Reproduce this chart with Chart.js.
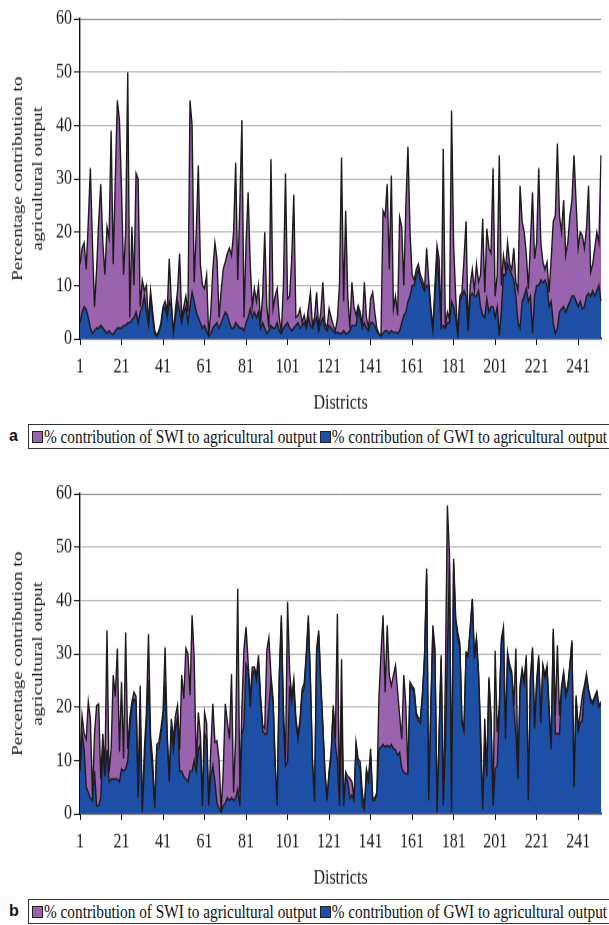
<!DOCTYPE html>
<html>
<head>
<meta charset="utf-8">
<script src="https://cdn.jsdelivr.net/npm/chart.js@4.4.1/dist/chart.umd.min.js"></script>
<style>
  body { margin: 0; background: #fff; width: 609px; height: 925px; overflow: hidden; position: relative; }
  /* the printed figure is stretched vertically, so each chart is drawn flatter and scaled back up */
  .wrap { position: absolute; left: 0; width: 609px; height: 332px; transform: scaleY(1.25); transform-origin: 0 0; }
  .tag { position: absolute; left: 9px; font: bold 16px 'Liberation Sans', Arial, sans-serif; color: #111; }
  .box { position: absolute; left: 28px; width: 640px; height: 23px; border: 1.5px solid #333;
         font: 15.3px 'Liberation Serif', serif; color: #111; line-height: 23px; padding-left: 3px; white-space: nowrap; }
  .box span.t { display: inline-block; transform: scaleY(1.2); }
  .sw { display: inline-block; width: 9px; height: 10px; border: 1px solid #222; margin-right: 1px; vertical-align: -1px; }
  .sw.second { margin-left: 3px; }
</style>
</head>
<body>
<div class="wrap" style="top:0px"><canvas id="chartA" width="609" height="332"></canvas></div>
<div class="tag" style="top:427px">a</div>
<div class="box" style="top:424px"><span class="sw" style="background:#9a63ad"></span><span class="t">% contribution of SWI to agricultural output</span><span class="sw second" style="background:#1c4fa5"></span><span class="t">% contribution of GWI to agricultural output</span></div>

<div class="wrap" style="top:475px"><canvas id="chartB" width="609" height="332"></canvas></div>
<div class="tag" style="top:902px">b</div>
<div class="box" style="top:899px"><span class="sw" style="background:#9a63ad"></span><span class="t">% contribution of SWI to agricultural output</span><span class="sw second" style="background:#1c4fa5"></span><span class="t">% contribution of GWI to agricultural output</span></div>

<script>
// districts 1..252 visible in the figure
const districts = Array.from({ length: 252 }, (_, i) => String(i + 1))
const xTickLabels = ['1', '21', '41', '61', '81', '101', '121', '141', '161', '181', '201', '221', '241']
const yTicks = [0, 10, 20, 30, 40, 50, 60]

const seriesNames = ['% contribution of GWI to agricultural output', '% contribution of SWI to agricultural output']

// panel a
const gwiA = [
  3,5,6,5.5,4,2,1,1.5,2,2, 2.5,2,1.5,1,1.5,1,0.8,1.5,2,2,
  2,2.5,2.5,3,3,3.5,4,5,3,5, 6,8,5,2.5,8,4,1,0.5,1.2,2.5,
  5.5,6,4,7,6,1,4,7,5,3, 5,6,3,6,8.7,7,5,4,3,2,
  2.5,1.5,0.5,1,2,2.5,3,2,3,4, 5,4.5,3,2,2,3,2.5,2,2,1.5,
  3,4,5.6,4,5,4,5,2,3,2, 1,1.5,2.5,2,2,3,1.5,1,2,2.5,
  3,2,1.5,2,2.5,3,2,2.5,3,2, 4,2.5,2,3,4,1.5,3,4,2,1.5,
  2.5,2,1.5,1,1.2,1,1,1.5,1,1, 1.5,2.5,2.5,2.5,5.6,4,2,3,2,1.5,
  3,3,2.5,1.5,0.8,0.5,1,1.5,1.5,1, 1.5,1.2,1.2,1,1.5,3,4.4,5,7,8,
  10,10,12,13,11,10,9,10,10,5, 1.5,8,16,10,2,2.5,2,3,3,7,
  6,4,0.5,7,8,9,8,1.5,8,8.5, 8,8,9,6,4.4,4,7.5,5,6,6,
  4,6,0.6,5,12,12,14,13,12,11, 8,3,2,7,8,9.4,7,8,1,8,
  10,10,11,10.5,11,10,6,7,3,1, 2,5,5.6,6,5,6,7,8,8,7,
  6,7,5.6,6,8,8.5,8,9,8,9, 10,7
]
const swiA = [
  11,12,12,7.5,18,30,17,4.5,11,20, 26.5,16,10.5,20,17.5,38,13.2,28.5,42.7,39,
  26,9.5,17.5,47,1,17.5,6,26,27,1, 5,1,5,0.5,1,1,0.5,0.1,0.3,0.5,
  0.5,1,1,8,1,0,1.6,2,11,1, 1,2,2,38.7,31.3,3.6,15,28.5,11,8,
  6.9,10.5,0.1,4,11,15.5,12,2,6,9, 9.4,11.5,14,13.6,18,30,8.5,23,39,2.5,
  15,23.5,8.4,2,4.4,3,5,1,5,18, 5,0.5,31.2,3.6,6,6.4,2.5,0.2,8,28.5,
  4.5,6,13.5,25,1.5,1.4,3.6,0.5,1.4,0.5, 1.6,6.2,0.5,1,4.7,0.5,2,6.6,1,0.5,
  3.1,2,1,0.5,2.5,9,33,5.5,23,7, 0.5,8.1,3.5,1.9,0.6,1,0.5,7.6,2,0.5,
  4.5,5.7,2.5,0.5,0.2,0.1,23,21.5,27.5,12, 29.1,4.4,6.8,3.4,21.3,18,5.6,20,29,12,
  2,1,1,1,1,1,0.4,7,1,1, 0.5,2,1.5,5,0.5,33.1,0.5,2,0.7,35.8,
  11.5,4,0.1,1,0.7,6,14,0.5,2,4.5, 1,6,1.6,6,18.1,4.7,13.1,12,10,26,
  4,6,33.8,5,3.6,1,4,1,1,6, 2.6,6,26.7,15,12,6.6,2.4,10,26.5,7,
  8,22,7,3.9,2,4.4,2.7,8,19,22, 34.6,18,14.4,20,10.6,12,16,18,26.4,18.6,
  11,13,13.8,11,12.6,20.2,4.5,5,9,11, 8,27.4
]

// panel b
const gwiB = [
  8,15,12,5,4,3,2.5,8,1.5,1.5, 3,12,7,12,6,6.5,6.5,6.5,6.5,6,
  8.4,8,8.4,10,16,20,21.5,21,3,18, 0.3,9,17,25,12,8,1,12,12.5,15,
  18,24.7,14,6,16,12,16,18,8,8, 7,6.5,6,8,8,10,8,12,13,1.5,
  15,14,1.5,7,9,6,2,1,0.3,1.5, 2,3,2.5,3,2.5,3,4.6,1.5,15,16.5,
  28,27,20,26,27,25,28,21,15.5,15, 15,20,25,21,9,1.5,25,36,17,9,
  9.7,24,21,24,17,14,17,22.5,23.5,29, 36,24.5,9.5,2.3,30,33.5,24,16,7.5,2.5,
  7.5,11,19.5,13,10,1.5,20,1.5,7,6, 3,3.5,2.5,12.5,9.5,8.5,1.5,0.8,7.5,6,
  11,2.5,2.5,3.5,12,12.5,13,12.5,12.8,12.5, 13,12.2,12,11,11.5,8.5,7.8,7.5,7.5,24,
  23.5,23,18.5,17.5,17,22,29,45,2.5,19, 34,30,0.3,14,29,1.5,12,30,47,0.3,
  47,36,33,31,17,15.5,30,29.5,34.5,40, 29,32.5,26,13,0.8,14,7,25,17.5,1.5,
  8.4,9,19,32,34,14,29.5,27,26,19.5, 15,6.5,23,26.5,24.5,29,2.5,25,30.5,16,
  24,29,17,27.5,25.5,27,19,12,34,15, 15,15,23,26,22,23.5,27.5,32,5,21.5,
  15.5,17,17.5,23.5,25.5,23,21,20.5,21.5,22.5, 20,20.5
]
const swiB = [
  2.3,3.4,3,9,17,14.8,0.9,7,18.8,19.1, 3.5,3,1.4,22.4,1.8,5.5,19.5,15.5,24.5,5.6,
  16.3,2.3,25.6,2.2,2,1,1.3,1,1,6, 0,3,2,8.7,2.7,2,0.2,1,0.9,1,
  1,6.5,1,0.5,1.8,2,2.4,2.3,4,18, 14.6,24.5,24,14.2,29.2,19.4,1,7,2,0.1,
  4,3,0.1,5,11.6,7.4,11.7,9,0.2,6.5, 18.6,14.2,11.5,23.2,1.5,12,37.6,2.5,5,14.5,
  7,1.4,1.6,1.5,0.5,1,1.7,1,1.1,1, 15.6,13,1,0.6,1,0.1,1.2,1.2,3,0.7,
  30,2.6,1,1.3,1,0.7,0.8,0.9,0.9,1, 1.2,0.8,0.5,0.2,1,0.9,1,0.6,0.5,0.3,
  0.5,0.6,0.8,1,27.5,0.1,9,0.1,0.8,1, 3.6,2.5,0.3,0.9,0.8,1.2,2.5,0.2,0.9,0.6,
  1.2,0.3,0.5,0.5,9.6,17.5,24.2,10.3,22.5,13.5, 11,13.8,15.8,12,6.9,5.5,18.2,12.5,0.3,0.7,
  0.5,0.4,0.5,0.5,0.8,0.8,1,1,0.3,1, 1.3,1,0,1,0.7,0.1,13,27.8,1.4,0,
  0.8,0.6,1,1,0.8,0.5,0.3,0.5,0.5,0.3, 0.7,0.5,0.6,3,0.2,3.8,0.8,0.6,0.9,0.1,
  22.2,6.3,1,0.8,1,0.7,0.8,1,0.6,0.8, 16,0.7,1,0.7,0.5,0.7,0.3,0.6,0.7,0.6,
  1,0.7,0.8,0.5,0.5,0.8,1,0.8,0.7,3.4, 16.6,3.4,1,0.6,0.8,0.5,0.5,0.5,0.3,0.7,
  0.5,2,4.7,0.5,0.7,0.4,0.6,0.5,0.5,0.5, 0.3,0.5
]

const PURPLE = '#9a63ad'
const BLUE = '#1c4fa5'
const OUTLINE = '#1e1a1e'

Chart.defaults.font.family = "'Liberation Serif', 'Times New Roman', serif"
Chart.defaults.font.size = 16
Chart.defaults.color = '#1a1a1a'

const makeChart = (id, gwi, swi) => {
  new Chart(document.getElementById(id), {
    type: 'line',
    data: {
      labels: districts,
      datasets: [{
        label: seriesNames[0],
        data: gwi,
        backgroundColor: BLUE,
        borderColor: OUTLINE,
        borderWidth: 1.4,
        pointRadius: 0,
        tension: 0,
        fill: 'origin'
      }, {
        label: seriesNames[1],
        data: swi,
        backgroundColor: PURPLE,
        borderColor: OUTLINE,
        borderWidth: 1.4,
        pointRadius: 0,
        tension: 0,
        fill: '-1'
      }]
    },
    options: {
      responsive: false,
      animation: false,
      layout: { padding: { top: 15, left: 0, right: 0, bottom: 0 } },
      plugins: { legend: { display: false }, tooltip: { enabled: false } },
      scales: {
        x: {
          offset: false,
          grid: {
            drawOnChartArea: false,
            color: 'transparent',
            tickColor: ctx => xTickLabels.includes(districts[ctx.index]) ? '#111' : 'transparent',
            tickLength: 5
          },
          border: { display: true, color: '#111', width: 1.4 },
          ticks: {
            autoSkip: false,
            maxRotation: 0,
            minRotation: 0,
            padding: 8,
            callback: (v, i) => xTickLabels.includes(districts[i]) ? districts[i] : ''
          },
          title: { display: true, text: 'Districts', padding: { top: 0, bottom: 0 } },
          afterFit: s => { s.height = 61 }
        },
        y: {
          stacked: true,
          min: yTicks[0],
          max: yTicks[yTicks.length - 1],
          ticks: { stepSize: 10, padding: 2 },
          grid: {
            color: ctx => {
              if (!ctx.tick || ctx.tick.value === 0) return 'transparent'
              return ctx.tick.value === 60 ? '#8c8c8c' : '#b4b4b4'
            },
            tickColor: '#111',
            tickLength: 6,
            lineWidth: 1
          },
          border: { display: true, color: '#111', width: 1.4 },
          title: {
            display: true,
            text: ['Percentage contribution to', 'agricultural output'],
            font: { size: 15.5, lineHeight: 1.29 },
            padding: { top: 8, bottom: 0 }
          },
          afterFit: s => { s.width = 80 }
        }
      }
    }
  })
}

makeChart('chartA', gwiA, swiA)
makeChart('chartB', gwiB, swiB)
</script>
</body>
</html>
